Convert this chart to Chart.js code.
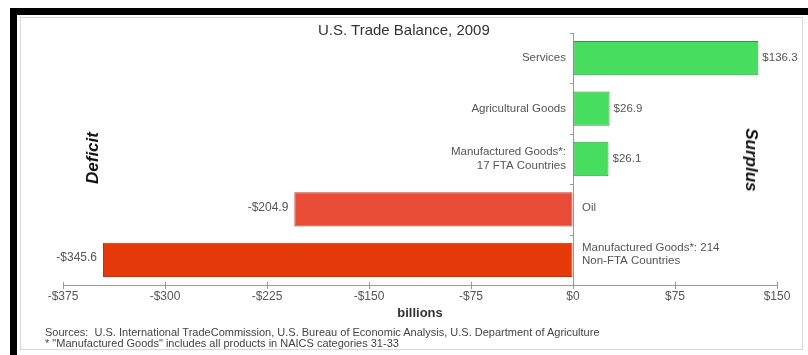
<!DOCTYPE html>
<html>
<head>
<meta charset="utf-8">
<script src="https://cdn.jsdelivr.net/npm/chart.js@4.4.0/dist/chart.umd.min.js"></script>
<style>
  body { margin: 0; background: #fff; font-family: "Liberation Sans", Arial, sans-serif; }
  #wrap { position: relative; width: 808px; height: 355px; overflow: hidden; }
  #frame { position: absolute; left: 10px; top: 8px; width: 805px; height: 350px;
           border-top: 7px solid #000; border-left: 7px solid #000; }
  #panel { position: absolute; left: 20px; top: 17px; width: 781px; height: 331px;
           border: 1px solid #d8d8d8; background: #fff; }
  canvas { position: absolute; left: 0; top: 0; }
  .txt { position: absolute; color: #333; white-space: nowrap; }
  #title { left: 318px; top: 21px; font-size: 15px; line-height: 17px; }
  .side { font-weight: bold; font-style: italic; color: #111; font-size: 17px; }
  #deficit { left: 93px; top: 158px; transform: translate(-50%, -50%) rotate(-90deg); }
  #surplus { left: 751px; top: 160px; transform: translate(-50%, -50%) rotate(90deg); }
  .src { left: 45px; font-size: 11px; line-height: 12px; color: #444; }
</style>
</head>
<body>
<div id="wrap">
  <div id="frame"></div>
  <div id="panel"></div>
  <canvas id="tradeChart" width="808" height="355"></canvas>
  <div class="txt" id="title">U.S. Trade Balance, 2009</div>
  <div class="txt side" id="deficit">Deficit</div>
  <div class="txt side" id="surplus">Surplus</div>
  <div class="txt src" style="top:326px">Sources:&nbsp; U.S. International TradeCommission, U.S. Bureau of Economic Analysis, U.S. Department of Agriculture</div>
  <div class="txt src" style="top:337px">* "Manufactured Goods" includes all products in NAICS categories 31-33</div>
</div>
<script>
// data (billions of dollars)
const categories = [
    ['Services'],
    ['Agricultural Goods'],
    ['Manufactured Goods*:', '17 FTA Countries'],
    ['Oil'],
    ['Manufactured Goods*: 214', 'Non-FTA Countries']
];
const balances = [136.3, 26.9, 26.1, -204.9, -345.6];
const tickValues = [-375, -300, -225, -150, -75, 0, 75, 150];

const barColors = ['#47dd5f', '#47dd5f', '#47dd5f', '#e84c37', '#e6390a'];
const barBorders = ['#2f9e3e', '#2f9e3e', '#2f9e3e', '#c23a26', '#c0300a'];

const FONT = '"Liberation Sans", Arial, sans-serif';

function money(v) {
    return (v < 0 ? '-$' : '$') + Math.abs(v);
}

// category names and value labels on either side of the zero line
const barLabels = {
    id: 'barLabels',
    afterDatasetsDraw(chart) {
        const ctx = chart.ctx;
        const x = chart.scales.x;
        const y = chart.scales.y;
        const zero = x.getPixelForValue(0);
        const meta = chart.getDatasetMeta(0);
        ctx.save();
        ctx.textBaseline = 'middle';

        // small ticks on the zero line between categories
        ctx.strokeStyle = '#999';
        ctx.lineWidth = 1;
        for (let i = 0; i <= categories.length; i++) {
            const py = Math.round(y.getPixelForValue(i - 0.5)) + 0.5;
            ctx.beginPath();
            ctx.moveTo(zero - 3, py);
            ctx.lineTo(zero, py);
            ctx.stroke();
        }

        // x ticks poke a little above the axis line
        tickValues.forEach(t => {
            const px = Math.round(x.getPixelForValue(t)) + 0.5;
            ctx.beginPath();
            ctx.moveTo(px, x.top - 3);
            ctx.lineTo(px, x.top);
            ctx.stroke();
        });

        meta.data.forEach((bar, i) => {
            const v = balances[i];
            const lines = categories[i];
            const lh = 14;
            ctx.fillStyle = '#555';
            ctx.font = '11.5px ' + FONT;
            if (v >= 0) {
                ctx.textAlign = 'right';
                lines.forEach((l, k) => {
                    ctx.fillText(l, zero - 7, bar.y + (k - (lines.length - 1) / 2) * lh);
                });
                ctx.textAlign = 'left';
                ctx.fillText(money(v), bar.x + 4, bar.y);
            } else {
                ctx.textAlign = 'left';
                const off = lines.length > 1 ? -5 : -2;
                lines.forEach((l, k) => {
                    ctx.fillText(l, zero + 9, bar.y + off + (k - (lines.length - 1) / 2) * 13);
                });
                ctx.textAlign = 'right';
                ctx.font = '12px ' + FONT;
                ctx.fillText(money(v), bar.x - 6, bar.y - 2);
            }
        });
        ctx.restore();
    }
};

new Chart(document.getElementById('tradeChart').getContext('2d'), {
    type: 'bar',
    data: {
        labels: categories,
        datasets: [{
            data: balances,
            backgroundColor: barColors,
            borderColor: barBorders,
            borderWidth: 1,
            borderSkipped: false,
            barPercentage: 0.68,
            categoryPercentage: 1
        }]
    },
    options: {
        indexAxis: 'y',
        responsive: false,
        animation: false,
        layout: { padding: { left: 63, right: 31, top: 33, bottom: 34 } },
        plugins: { legend: { display: false }, tooltip: { enabled: false } },
        scales: {
            x: {
                min: -375,
                max: 150,
                afterBuildTicks: scale => { scale.ticks = tickValues.map(v => ({ value: v })); },
                afterFit: scale => { scale.height = 36; },
                grid: {
                    drawOnChartArea: true,
                    color: ctx => (ctx.tick && ctx.tick.value === 0) ? '#999' : 'rgba(0,0,0,0)',
                    tickColor: '#999',
                    tickLength: 4
                },
                border: { display: true, color: '#999' },
                ticks: {
                    callback: v => money(v),
                    color: '#555',
                    font: { family: FONT, size: 12 },
                    padding: 0,
                    maxRotation: 0,
                    autoSkip: false
                },
                title: {
                    display: true,
                    text: 'billions',
                    color: '#333',
                    font: { family: FONT, size: 13, weight: 'bold' },
                    padding: { top: 1, bottom: 0 }
                }
            },
            y: {
                display: false
            }
        }
    },
    plugins: [barLabels]
});
</script>
</body>
</html>
